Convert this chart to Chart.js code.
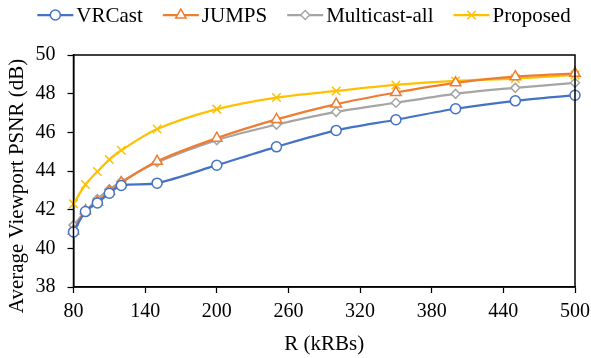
<!DOCTYPE html>
<html>
<head>
<meta charset="utf-8">
<script src="https://cdn.jsdelivr.net/npm/chart.js@4.4.1/dist/chart.umd.min.js"></script>
<style>
  html, body { margin: 0; padding: 0; background: #fff; }
  #wrap { width: 591px; height: 358px; position: relative; }
</style>
</head>
<body>
<div id="wrap"><canvas id="psnrChart"></canvas></div>
<script>
// R (kRBs) values where each scheme was measured
var rValues = [80, 90, 100, 110, 120, 150, 200, 250, 300, 350, 400, 450, 500];
var vrcast = [40.85, 41.9, 42.35, 42.85, 43.25, 43.37, 44.3, 45.25, 46.1, 46.65, 47.22, 47.63, 47.92];
var jumps = [40.9, 41.95, 42.4, 42.95, 43.4, 44.5, 45.7, 46.67, 47.46, 48.06, 48.56, 48.88, 49.05];
var multicastAll = [41.2, 41.9, 42.55, 43.05, 43.45, 44.45, 45.6, 46.4, 47.06, 47.53, 47.99, 48.3, 48.56];
var proposed = [42.3, 43.3, 43.97, 44.59, 45.07, 46.17, 47.2, 47.8, 48.14, 48.45, 48.66, 48.78, 48.97];
var xTicks = [80, 140, 200, 260, 320, 380, 440, 500];
var yTicks = [38, 40, 42, 44, 46, 48, 50];

var FONT = '"Liberation Serif", "Times New Roman", serif';

function toPoints(ys) {
    return ys.map(function(y, i) { return { x: rValues[i], y: y }; });
}

function series(label, ys, color, style, radius) {
    return {
        label: label,
        data: toPoints(ys),
        borderColor: color,
        backgroundColor: '#ffffff',
        borderWidth: 2.25,
        pointStyle: style,
        pointRadius: radius,
        pointBorderColor: color,
        pointBackgroundColor: '#ffffff',
        pointBorderWidth: 1.5,
        tension: 0.3,
        clip: false
    };
}

// box round the plot area
var framePlugin = {
    id: 'frame',
    afterDraw: function(chart) {
        var a = chart.chartArea, ctx = chart.ctx;
        ctx.save();
        ctx.strokeStyle = '#000';
        ctx.lineWidth = 1.5;
        ctx.strokeRect(a.left, a.top, a.right - a.left, a.bottom - a.top);
        ctx.restore();
    }
};

// Excel style legend: line with marker, then name
var legendPlugin = {
    id: 'lineLegend',
    afterDraw: function(chart) {
        var ctx = chart.ctx;
        var sets = chart.data.datasets;
        var lineLen = 36, gap = 3, spacing = 20, cy = 15;
        ctx.save();
        ctx.font = '21px ' + FONT;
        var total = 0;
        sets.forEach(function(ds, i) {
            total += lineLen + gap + ctx.measureText(ds.label).width;
            if (i < sets.length - 1) total += spacing;
        });
        var x = 304 - total / 2;
        sets.forEach(function(ds) {
            ctx.strokeStyle = ds.borderColor;
            ctx.lineWidth = 2.25;
            ctx.beginPath();
            ctx.moveTo(x, cy);
            ctx.lineTo(x + lineLen, cy);
            ctx.stroke();
            ctx.fillStyle = '#ffffff';
            ctx.lineWidth = 1.5;
            Chart.helpers.drawPoint(ctx, { pointStyle: ds.pointStyle, radius: ds.pointRadius, borderWidth: 1.5 }, x + lineLen / 2, cy);
            ctx.fillStyle = '#000';
            ctx.textBaseline = 'middle';
            ctx.textAlign = 'left';
            ctx.fillText(ds.label, x + lineLen + gap, cy + 1);
            x += lineLen + gap + ctx.measureText(ds.label).width + spacing;
        });
        ctx.restore();
    }
};

// vertical axis title, placed as in the figure
var yTitlePlugin = {
    id: 'yTitle',
    afterDraw: function(chart) {
        var ctx = chart.ctx;
        ctx.save();
        ctx.translate(17.5, 186);
        ctx.rotate(-Math.PI / 2);
        ctx.font = '21px ' + FONT;
        ctx.fillStyle = '#000';
        ctx.textAlign = 'center';
        ctx.textBaseline = 'middle';
        ctx.fillText('Average Viewport PSNR (dB)', 0, 0);
        ctx.restore();
    }
};

new Chart(document.getElementById('psnrChart'), {
    type: 'line',
    data: {
        datasets: [
            series('VRCast', vrcast, '#4472C4', 'circle', 5),
            series('JUMPS', jumps, '#ED7D31', 'triangle', 6),
            series('Multicast-all', multicastAll, '#A5A5A5', 'rectRot', 4.5),
            series('Proposed', proposed, '#FFC000', 'crossRot', 6)
        ]
    },
    options: {
        responsive: true,
        maintainAspectRatio: false,
        animation: false,
        layout: { padding: { top: 55, left: 0, right: 16, bottom: 0 } },
        plugins: { legend: { display: false }, tooltip: { enabled: false } },
        scales: {
            x: {
                type: 'linear',
                min: 80,
                max: 500,
                afterBuildTicks: function(axis) { axis.ticks = xTicks.map(function(v) { return { value: v }; }); },
                afterFit: function(axis) { axis.height = 71; axis.paddingLeft = 0; axis.paddingRight = 0; },
                ticks: { color: '#000', font: { family: FONT, size: 20 }, padding: 7, maxRotation: 0 },
                grid: { display: true, drawOnChartArea: false, drawTicks: true, tickLength: 6, color: '#000', tickWidth: 1.25 },
                border: { display: true, color: '#000', width: 1.5 },
                title: { display: true, text: 'R (kRBs)', color: '#000', font: { family: FONT, size: 21 }, padding: { top: 0, bottom: 1 } }
            },
            y: {
                min: 38,
                max: 50,
                afterBuildTicks: function(axis) { axis.ticks = yTicks.map(function(v) { return { value: v }; }); },
                afterFit: function(axis) { axis.width = 73.5; },
                ticks: { color: '#000', font: { family: FONT, size: 20 }, padding: 12 },
                grid: { display: true, drawOnChartArea: false, drawTicks: true, tickLength: 6, color: '#000', tickWidth: 1.25 },
                border: { display: true, color: '#000', width: 1.5 },
                title: { display: false }
            }
        }
    },
    plugins: [framePlugin, legendPlugin, yTitlePlugin]
});
</script>
</body>
</html>
